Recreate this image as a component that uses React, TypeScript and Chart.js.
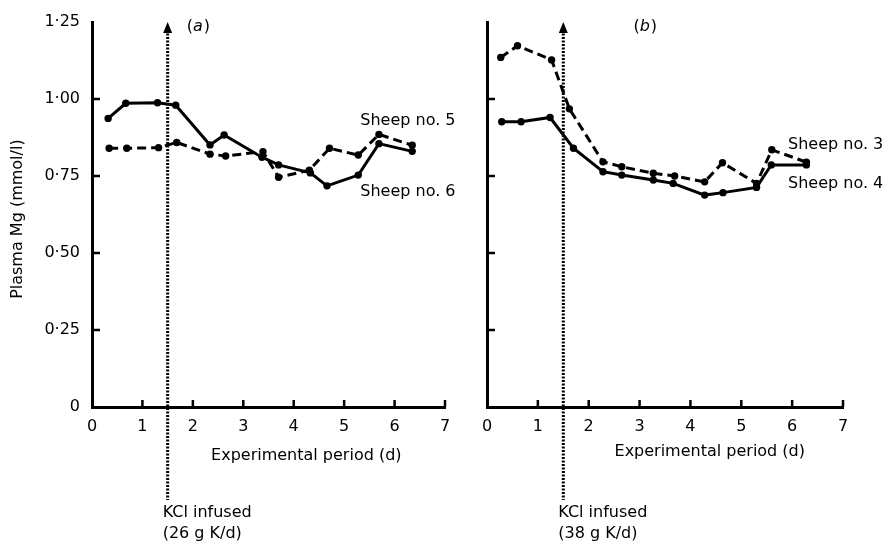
import React, { useEffect, useRef } from 'react';
import { Chart, registerables } from 'chart.js';

Chart.register(...registerables);

// ---------- data ----------
const yTicks = [0, 0.25, 0.5, 0.75, 1.0, 1.25];
const yTickLabels = ['0', '0·25', '0·50', '0·75', '1·00', '1·25'];
const xTicks = [0, 1, 2, 3, 4, 5, 6, 7];
const xTickLabels = ['0', '1', '2', '3', '4', '5', '6', '7'];

// Panel (a)
const aSheep5Days = [0.34, 0.69, 1.32, 1.68, 2.34, 2.65, 3.39, 3.70, 4.31, 4.71, 5.28, 5.69, 6.35];
const aSheep5Mg = [0.84, 0.84, 0.842, 0.859, 0.821, 0.815, 0.829, 0.746, 0.769, 0.84, 0.818, 0.885, 0.85];
const aSheep6Days = [0.32, 0.67, 1.30, 1.66, 2.34, 2.62, 3.37, 3.70, 4.33, 4.66, 5.28, 5.69, 6.35];
const aSheep6Mg = [0.937, 0.986, 0.988, 0.98, 0.851, 0.883, 0.811, 0.786, 0.76, 0.718, 0.753, 0.855, 0.83];

// Panel (b)
const bSheep3Days = [0.27, 0.60, 1.27, 1.62, 2.28, 2.65, 3.27, 3.69, 4.28, 4.63, 5.30, 5.60, 6.28];
const bSheep3Mg = [1.135, 1.173, 1.127, 0.968, 0.796, 0.78, 0.759, 0.75, 0.731, 0.793, 0.726, 0.835, 0.795];
const bSheep4Days = [0.29, 0.67, 1.24, 1.70, 2.28, 2.65, 3.27, 3.66, 4.28, 4.64, 5.30, 5.59, 6.28];
const bSheep4Mg = [0.926, 0.926, 0.94, 0.84, 0.764, 0.753, 0.737, 0.726, 0.688, 0.696, 0.713, 0.786, 0.786];

const kclDay = 1.5;
const panelLetters = ['a', 'b'];
const kclTitle = 'KCl infused';
const kclDoses = ['(26 g K/d)', '(38 g K/d)'];
const namesA = ['Sheep no. 5', 'Sheep no. 6'];
const namesB = ['Sheep no. 3', 'Sheep no. 4'];
const xTitle = 'Experimental period (d)';
const yTitle = 'Plasma Mg (mmol/l)';

const FONT = "'DejaVu Sans', 'Liberation Sans', sans-serif";

const zip = (xs: number[], ys: number[]) => xs.map((x, i) => ({ x, y: ys[i] }));

const decorPlugin = {
  id: 'decor',
  afterDraw(chart: any, _args: any, opts: any) {
    const ctx = chart.ctx as CanvasRenderingContext2D;
    const xs = chart.scales.x;
    const ys = chart.scales.y;
    const area = chart.chartArea;
    ctx.save();
    ctx.strokeStyle = '#000';
    ctx.fillStyle = '#000';
    // inside ticks
    ctx.lineWidth = 2.5;
    ctx.beginPath();
    yTicks.forEach((v) => {
      if (v <= 0 || v >= ys.max) return;
      const py = ys.getPixelForValue(v);
      ctx.moveTo(area.left, py);
      ctx.lineTo(area.left + 8, py);
    });
    xTicks.forEach((v) => {
      if (v <= 0) return;
      const px = xs.getPixelForValue(v);
      ctx.moveTo(px, area.bottom);
      ctx.lineTo(px, area.bottom - 7);
    });
    ctx.stroke();

    // dotted KCl line
    const kx = xs.getPixelForValue(kclDay);
    const tipY = ys.getPixelForValue(1.25);
    ctx.lineWidth = 3;
    ctx.setLineDash([2, 1.5]);
    ctx.beginPath();
    ctx.moveTo(kx, tipY + 8);
    ctx.lineTo(kx, area.bottom + 93);
    ctx.stroke();
    ctx.setLineDash([]);
    ctx.beginPath();
    ctx.moveTo(kx, tipY);
    ctx.lineTo(kx - 4.5, tipY + 11);
    ctx.lineTo(kx + 4.5, tipY + 11);
    ctx.closePath();
    ctx.fill();

    // KCl text
    ctx.font = `16px ${FONT}`;
    ctx.textAlign = 'left';
    ctx.textBaseline = 'middle';
    ctx.fillText(kclTitle, kx - 5, area.bottom + 106);
    ctx.fillText(opts.dose, kx - 5, area.bottom + 127);

    // panel letter
    const ly = ys.getPixelForValue(1.235);
    let lx = xs.getPixelForValue(opts.letterAt);
    ctx.font = `16px ${FONT}`;
    ctx.fillText('(', lx, ly);
    lx += ctx.measureText('(').width;
    ctx.font = `italic 16px ${FONT}`;
    ctx.fillText(opts.letter, lx, ly);
    lx += ctx.measureText(opts.letter).width + 1;
    ctx.font = `16px ${FONT}`;
    ctx.fillText(')', lx, ly);

    // series labels
    opts.labels.forEach((l: any) => {
      ctx.fillText(l.text, xs.getPixelForValue(l.x), ys.getPixelForValue(l.y));
    });

    // x title
    ctx.textAlign = 'center';
    ctx.fillText(xTitle, xs.getPixelForValue(opts.xTitleAt), area.bottom + opts.xTitleDy);

    // y title
    if (opts.yTitle) {
      ctx.save();
      ctx.translate(area.left - 74, ys.getPixelForValue(0.61));
      ctx.rotate(-Math.PI / 2);
      ctx.textAlign = 'center';
      ctx.fillText(yTitle, 0, 0);
      ctx.restore();
    }
    ctx.restore();
  },
};

function makeConfig(p: any) {
  const lineBase = {
    showLine: true,
    borderColor: '#000',
    borderWidth: 3,
    pointRadius: 3.7,
    pointBackgroundColor: '#000',
    pointBorderColor: '#000',
    pointBorderWidth: 0,
    tension: 0,
  };
  return {
    type: 'scatter',
    data: {
      datasets: [
        { ...lineBase, label: p.names[0], data: zip(p.dashX, p.dashY), borderDash: [9, 5] },
        { ...lineBase, label: p.names[1], data: zip(p.solidX, p.solidY) },
      ],
    },
    options: {
      responsive: false,
      animation: false,
      events: [],
      layout: { padding: { left: 0, right: p.padRight, top: 22, bottom: 0 } },
      plugins: {
        legend: { display: false },
        tooltip: { enabled: false },
        decor: {
          dose: p.dose,
          letter: p.letter,
          letterAt: p.letterAt,
          labels: p.labels,
          xTitleAt: p.xTitleAt,
          xTitleDy: p.xTitleDy,
          yTitle: p.showY,
        },
      },
      scales: {
        x: {
          type: 'linear',
          min: 0,
          max: 7,
          afterBuildTicks: (s: any) => {
            s.ticks = xTicks.map((v) => ({ value: v }));
          },
          grid: { display: false, drawTicks: false },
          border: { display: true, color: '#000', width: 3 },
          ticks: {
            color: '#000',
            font: { family: FONT, size: 16 },
            padding: 10,
            maxRotation: 0,
            autoSkip: false,
            callback: (v: number) => xTickLabels[xTicks.indexOf(v)],
          },
          afterFit: (s: any) => {
            s.height = 136;
          },
        },
        y: {
          type: 'linear',
          min: 0,
          max: 1.25,
          afterBuildTicks: (s: any) => {
            s.ticks = yTicks.map((v) => ({ value: v }));
          },
          grid: { display: false, drawTicks: false },
          border: { display: true, color: '#000', width: 3 },
          ticks: {
            display: p.showY,
            color: '#000',
            font: { family: FONT, size: 16 },
            padding: 12,
            autoSkip: false,
            callback: (v: number) => yTickLabels[yTicks.indexOf(v)],
          },
          afterFit: (s: any) => {
            s.width = p.yWidth;
          },
        },
      },
    },
    plugins: [decorPlugin],
  };
}

function Panel(props: { cfg: any; left: number; width: number; height: number }) {
  const ref = useRef<HTMLCanvasElement | null>(null);
  useEffect(() => {
    if (!ref.current) return;
    const chart = new Chart(ref.current, makeConfig(props.cfg) as any);
    return () => chart.destroy();
  }, []);
  return (
    <canvas
      ref={ref}
      width={props.width}
      height={props.height}
      style={{ position: 'absolute', left: props.left, top: 0, width: props.width, height: props.height, display: 'block' }}
    />
  );
}

const panelA = {
  dashX: aSheep5Days,
  dashY: aSheep5Mg,
  solidX: aSheep6Days,
  solidY: aSheep6Mg,
  names: namesA,
  dose: kclDoses[0],
  letter: panelLetters[0],
  letterAt: 1.88,
  labels: [
    { text: namesA[0], x: 5.32, y: 0.93 },
    { text: namesA[1], x: 5.32, y: 0.70 },
  ],
  xTitleAt: 4.25,
  xTitleDy: 49,
  showY: true,
  yWidth: 92,
  padRight: 25,
};

const panelB = {
  dashX: bSheep3Days,
  dashY: bSheep3Mg,
  solidX: bSheep4Days,
  solidY: bSheep4Mg,
  names: namesB,
  dose: kclDoses[1],
  letter: panelLetters[1],
  letterAt: 2.88,
  labels: [
    { text: namesB[0], x: 5.92, y: 0.85 },
    { text: namesB[1], x: 5.92, y: 0.725 },
  ],
  xTitleAt: 4.38,
  xTitleDy: 45,
  showY: false,
  yWidth: 17,
  padRight: 46,
};

export default function App() {
  return (
    <div style={{ position: 'fixed', left: 0, top: 0, width: 889, height: 543, background: '#fff', overflow: 'hidden' }}>
      <Panel cfg={panelA} left={0} width={470} height={543} />
      <Panel cfg={panelB} left={470} width={419} height={543} />
    </div>
  );
}
